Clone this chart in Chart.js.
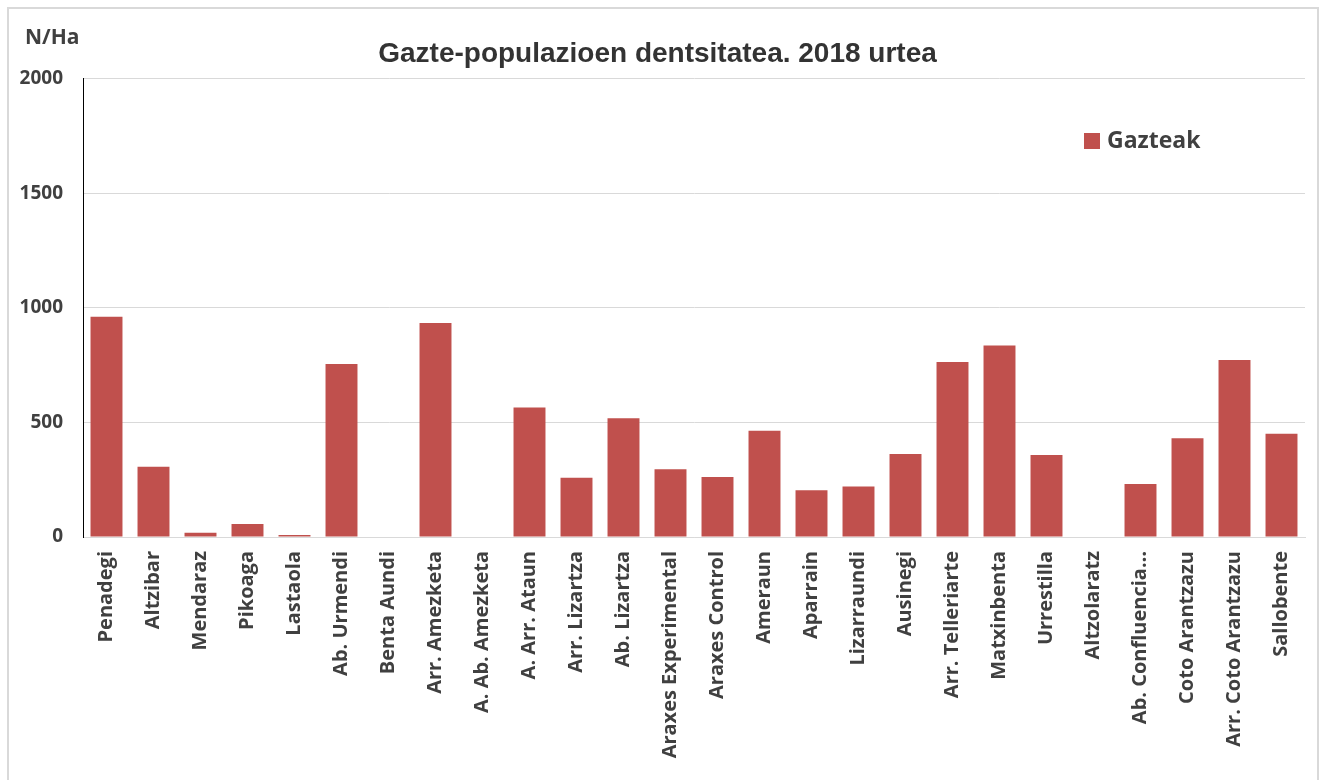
<!DOCTYPE html>
<html>
<head>
<meta charset="utf-8">
<script src="https://cdn.jsdelivr.net/npm/chart.js@4"></script>
<style>
  body { margin: 0; background: #fff; }
  #wrap { position: relative; width: 1325px; height: 780px; }
</style>
</head>
<body>
<div id="wrap"><canvas id="densityChart" width="1325" height="780"></canvas></div>
<script>
const stations = ["Penadegi", "Altzibar", "Mendaraz", "Pikoaga", "Lastaola", "Ab. Urmendi", "Benta Aundi",
    "Arr. Amezketa", "A. Ab. Amezketa", "A. Arr. Ataun", "Arr. Lizartza", "Ab. Lizartza", "Araxes Experimental",
    "Araxes Control", "Ameraun", "Aparrain", "Lizarraundi", "Ausinegi", "Arr. Telleriarte", "Matxinbenta",
    "Urrestilla", "Altzolaratz", "Ab. Confluencia…", "Coto Arantzazu", "Arr. Coto Arantzazu", "Sallobente"];
const gazteak = [961, 306, 18, 57, 9, 755, 0, 934, 0, 565, 258, 518, 296, 262, 464, 204, 220, 362, 763, 835,
    358, 0, 231, 431, 772, 451];
const yTicks = [0, 500, 1000, 1500, 2000];

const textColor = "#404040";
const labelFont = "'Open Sans', 'DejaVu Sans', sans-serif";

// frame, unit label and legend box
const extras = {
    id: "extras",
    beforeDraw(chart) {
        const ctx = chart.ctx;
        ctx.save();
        ctx.strokeStyle = "#d9d9d9";
        ctx.lineWidth = 2;
        ctx.strokeRect(8, 8, 1310, 800);
        ctx.restore();
    },
    afterDraw(chart) {
        const ctx = chart.ctx;
        ctx.save();
        ctx.fillStyle = textColor;
        ctx.font = "bold 21px " + labelFont;
        ctx.textBaseline = "middle";
        ctx.fillText("N/Ha", 25, 38);

        const ds = chart.data.datasets[0];
        ctx.fillStyle = ds.backgroundColor;
        ctx.fillRect(1084, 133, 16, 16);
        ctx.fillStyle = textColor;
        ctx.font = "bold 23px " + labelFont;
        ctx.fillText(ds.label, 1107, 141);
        ctx.restore();
    }
};

new Chart(document.getElementById("densityChart"), {
    type: "bar",
    data: {
        labels: stations,
        datasets: [{
            label: "Gazteak",
            data: gazteak,
            backgroundColor: "#C0504D",
            categoryPercentage: 1,
            barPercentage: 0.68
        }]
    },
    options: {
        responsive: false,
        animation: false,
        layout: { padding: { left: 10, right: 20, top: 0, bottom: 0 } },
        plugins: {
            legend: { display: false },
            tooltip: { enabled: false },
            title: {
                display: true,
                text: "Gazte-populazioen dentsitatea. 2018 urtea",
                color: "#333333",
                font: { family: "'Liberation Sans', Arial, sans-serif", size: 28, weight: "bold" },
                padding: { top: 37, bottom: 8 }
            }
        },
        scales: {
            x: {
                grid: { display: false, drawTicks: false },
                border: { color: "#d9d9d9", width: 1 },
                ticks: {
                    color: textColor,
                    font: { family: labelFont, size: 20, weight: "bold" },
                    minRotation: 90,
                    maxRotation: 90,
                    autoSkip: false,
                    padding: 14
                },
                afterFit(scale) { scale.height = 243; }
            },
            y: {
                min: 0,
                max: 2000,
                grid: { color: "#d9d9d9", drawTicks: false },
                border: { color: "#000000", width: 1 },
                ticks: {
                    color: textColor,
                    font: { family: labelFont, size: 19, weight: "bold" },
                    stepSize: 500,
                    padding: 20,
                    callback: (v) => yTicks.includes(v) ? v : ""
                },
                afterFit(scale) { scale.width = 73; }
            }
        }
    },
    plugins: [extras]
});
</script>
</body>
</html>
